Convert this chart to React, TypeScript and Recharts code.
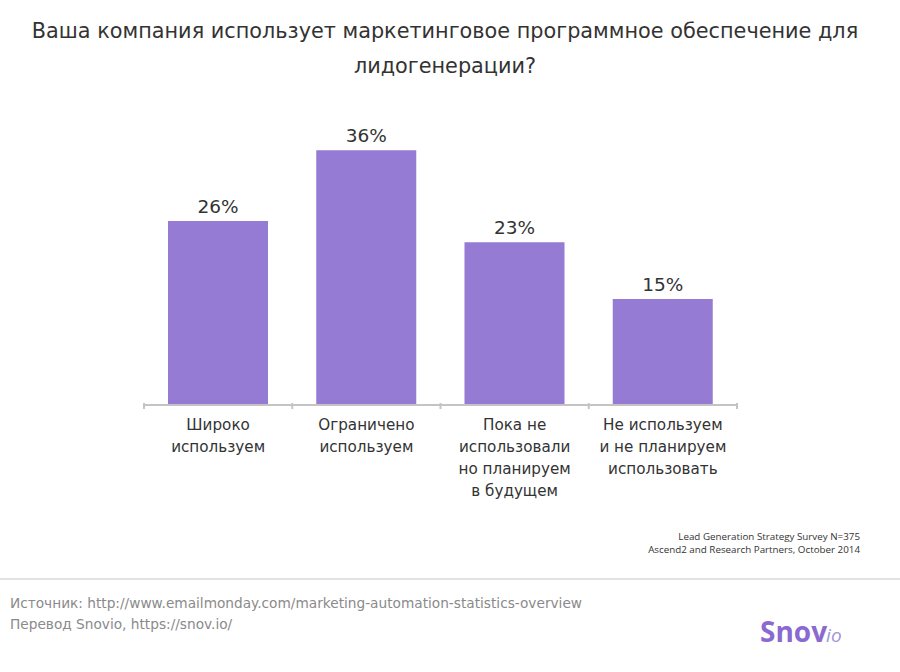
import { BarChart, Bar, XAxis, YAxis, LabelList } from 'recharts'

const categories = [
  'Широко\nиспользуем',
  'Ограничено\nиспользуем',
  'Пока не\nиспользовали\nно планируем\nв будущем',
  'Не используем\nи не планируем\nиспользовать',
]
const values = [26, 36, 23, 15]

const data = categories.map((c, i) => ({ name: c, value: values[i] }))

const FONT = '"DejaVu Sans", Verdana, sans-serif'
const BAR_COLOR = '#957bd4'
const AXIS_COLOR = '#c4c4c4'

const W = 900
const H = 672
const PLOT_LEFT = 144
const PLOT_RIGHT = 737
const STEP = (PLOT_RIGHT - PLOT_LEFT) / categories.length

const CategoryTick = ({ x, y, payload, index }: any) => {
  const lines = String(payload.value).split('\n')
  return (
    <g>
      <line x1={x - STEP / 2} x2={x - STEP / 2} y1={y - 10} y2={y - 4} stroke={AXIS_COLOR} strokeWidth={2} />
      {index === categories.length - 1 && (
        <line x1={x + STEP / 2} x2={x + STEP / 2} y1={y - 10} y2={y - 4} stroke={AXIS_COLOR} strokeWidth={2} />
      )}
      <text x={x} y={y} textAnchor="middle" fill="#333" fontSize={15.2} fontFamily={FONT}>
        {lines.map((l, i) => (
          <tspan key={i} x={x} dy={i === 0 ? 17 : 22}>
            {l}
          </tspan>
        ))}
      </text>
    </g>
  )
}

export default function App() {
  return (
    <div style={{ position: 'absolute', left: 0, top: 0, width: W, height: H, background: '#fff', fontFamily: FONT }}>
      <div
        style={{
          position: 'absolute',
          top: 14,
          left: -5,
          width: W,
          textAlign: 'center',
          fontSize: 20.8,
          lineHeight: '35px',
          color: '#333',
        }}
      >
        Ваша компания использует маркетинговое программное обеспечение для
        <br />
        лидогенерации?
      </div>

      <div style={{ position: 'absolute', left: 0, top: 0 }}>
        <BarChart
          width={W}
          height={H}
          data={data}
          margin={{ top: 122, right: W - PLOT_RIGHT, bottom: 167, left: PLOT_LEFT }}
          barCategoryGap={24}
        >
          <XAxis
            dataKey="name"
            interval={0}
            height={100}
            tickLine={false}
            axisLine={{ stroke: AXIS_COLOR, strokeWidth: 2 }}
            tick={<CategoryTick />}
          />
          <YAxis hide width={0} domain={[0, 40]} />
          <Bar dataKey="value" fill={BAR_COLOR} isAnimationActive={false}>
            <LabelList
              dataKey="value"
              position="top"
              offset={8}
              formatter={(v: any) => `${v}%`}
              fill="#333"
              fontSize={18.5}
              fontFamily={FONT}
            />
          </Bar>
        </BarChart>
      </div>

      <div
        style={{
          position: 'absolute',
          right: 40,
          top: 530,
          textAlign: 'right',
          fontSize: 9.8,
          lineHeight: '13px',
          color: '#333',
          fontFamily: '"Open Sans", sans-serif',
        }}
      >
        Lead Generation Strategy Survey N=375
        <br />
        Ascend2 and Research Partners, October 2014
      </div>

      <div style={{ position: 'absolute', left: 0, top: 578, width: W, height: 2, background: '#e2e2e2' }} />

      <div
        style={{
          position: 'absolute',
          left: 10,
          top: 593,
          fontSize: 13.7,
          lineHeight: '21px',
          color: '#8a8a8a',
        }}
      >
        Источник: http://www.emailmonday.com/marketing-automation-statistics-overview
        <br />
        Перевод Snovio, https://snov.io/
      </div>

      <div
        style={{
          position: 'absolute',
          left: 760,
          top: 612,
          color: '#8a6ad0',
          fontFamily: '"Open Sans", sans-serif',
          fontWeight: 700,
          fontSize: 28,
        }}
      >
        Snov
        <span style={{ fontSize: 19, fontStyle: 'italic', fontWeight: 400, color: '#a493d8', marginLeft: -1 }}>io</span>
      </div>
    </div>
  )
}
